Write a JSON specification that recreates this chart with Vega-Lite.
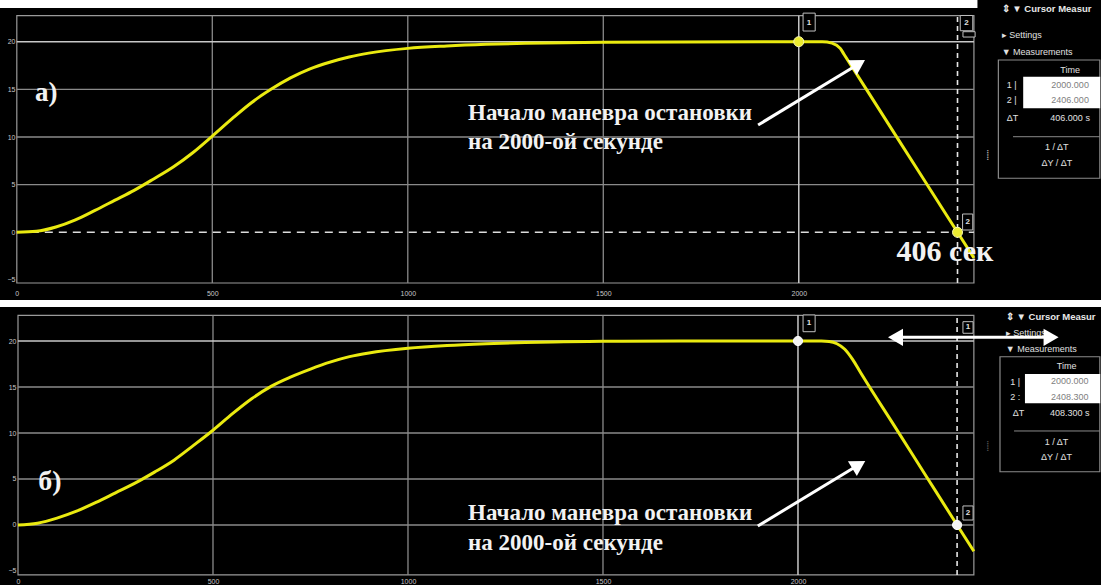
{
  "$schema": "https://vega.github.io/schema/vega-lite/v6.json",
  "background": "white",
  "padding": 0,
  "spacing": 7,
  "config": {
    "view": {"fill": "black", "stroke": null},
    "axis": {"labelFont": "Liberation Sans", "labelFontSize": 7, "labelColor": "#c8c8c8", "ticks": false, "domain": false, "grid": false, "title": null, "format": "d"}
  },
  "datasets": {
    "bandA": [{"t": -43, "t2": 2457, "v": 24.376, "v2": 23.54}],
    "frameA": [{"t": 0, "t2": 2448, "v": -5.32, "v2": 22.73}],
    "gridHA": [{"t": 0, "t2": 2448, "v": 5}, {"t": 0, "t2": 2448, "v": 10}, {"t": 0, "t2": 2448, "v": 15}],
    "gridVA": [{"t": 500, "v": -5.32, "v2": 22.73}, {"t": 1000, "v": -5.32, "v2": 22.73}, {"t": 1500, "v": -5.32, "v2": 22.73}],
    "cur1HA": [{"t": 0, "t2": 2448, "v": 20}],
    "cur2HA": [{"t": 0, "t2": 2448, "v": 0}],
    "cur1VA": [{"t": 2000, "v": -5.32, "v2": 22.73}],
    "cur2VA": [{"t": 2406, "v": -5.32, "v2": 22.73}],
    "curveA": [
      {"t": 0, "v": 0}, {"t": 50, "v": 0.1}, {"t": 100, "v": 0.55}, {"t": 150, "v": 1.3}, {"t": 200, "v": 2.3},
      {"t": 250, "v": 3.35}, {"t": 300, "v": 4.4}, {"t": 350, "v": 5.6}, {"t": 400, "v": 6.85}, {"t": 450, "v": 8.35},
      {"t": 500, "v": 10.1}, {"t": 550, "v": 11.9}, {"t": 600, "v": 13.6}, {"t": 650, "v": 15.0}, {"t": 700, "v": 16.2},
      {"t": 750, "v": 17.15}, {"t": 800, "v": 17.85}, {"t": 850, "v": 18.4}, {"t": 900, "v": 18.8}, {"t": 1000, "v": 19.3},
      {"t": 1100, "v": 19.55}, {"t": 1200, "v": 19.72}, {"t": 1300, "v": 19.83}, {"t": 1400, "v": 19.9}, {"t": 1500, "v": 19.94},
      {"t": 1700, "v": 19.98}, {"t": 2000, "v": 20}, {"t": 2060, "v": 20}, {"t": 2085, "v": 19.85}, {"t": 2106, "v": 19.3},
      {"t": 2116, "v": 18.66}, {"t": 2206, "v": 12.87}, {"t": 2306, "v": 6.43},
      {"t": 2406, "v": 0}, {"t": 2448, "v": -2.7}
    ],
    "dotsA": [{"t": 2000, "v": 20}, {"t": 2406, "v": 0}],
    "boxesA": [
      {"t": 2011, "t2": 2042, "v": 23.0, "v2": 21.12},
      {"t": 2413, "t2": 2445, "v": 22.75, "v2": 21.15},
      {"t": 2420, "t2": 2451, "v": 21.05, "v2": 20.49},
      {"t": 2419, "t2": 2445, "v": 1.92, "v2": 0.24}
    ],
    "boxLabelsA": [{"t": 2026, "v": 21.96, "label": "1"}, {"t": 2429, "v": 21.96, "label": "2"}, {"t": 2432, "v": 1.08, "label": "2"}],
    "arrowA": [{"t": 1896, "v": 11.26, "t2": 2153, "v2": 17.67}],
    "headA": [{"t": 2153, "v": 17.67}],
    "tagA": [{"t": 75, "v": 14.62, "label": "а)"}],
    "noteA": [{"t": 1154, "v": 12.51, "label": "Начало маневра остановки"}, {"t": 1154, "v": 9.51, "label": "на 2000-ой секунде"}],
    "secA": [{"t": 2374, "v": -2.07, "label": "406 сек"}],
    "panelBoxA": [{"t": 2510.5, "t2": 2770, "v": 18.08, "v2": 5.67}],
    "panelWhiteA": [{"t": 2574, "t2": 2771, "v": 16.33, "v2": 13.01}],
    "panelSepA": [{"t": 2548, "t2": 2770, "v": 10.03}],
    "panelHeadA": [{"t": 2519, "v": 23.43, "label": "⇕ ▼ Cursor Measur"}],
    "panelLeftA": [
      {"t": 2519, "v": 20.7, "label": "▸ Settings"}, {"t": 2519, "v": 18.95, "label": "▼ Measurements"},
      {"t": 2532, "v": 15.46, "label": "1 |"}, {"t": 2532, "v": 13.88, "label": "2 |"}, {"t": 2532, "v": 11.96, "label": "ΔT"}
    ],
    "panelCenterA": [
      {"t": 2694, "v": 17.03, "label": "Time"}, {"t": 2694, "v": 11.96, "label": "406.000 s"},
      {"t": 2660, "v": 8.98, "label": "1 / ΔT"}, {"t": 2660, "v": 7.24, "label": "ΔY / ΔT"}
    ],
    "panelValA": [{"t": 2694, "v": 15.46, "label": "2000.000"}, {"t": 2694, "v": 13.88, "label": "2406.000"}],
    "dotsStripA": [{"t": 2484, "v": 8.11, "label": "••••••"}],

    "frameB": [{"t": 0, "t2": 2451, "v": -5.43, "v2": 22.79}],
    "gridHB": [{"t": 0, "t2": 2451, "v": 0}, {"t": 0, "t2": 2451, "v": 5}, {"t": 0, "t2": 2451, "v": 10}, {"t": 0, "t2": 2451, "v": 15}],
    "gridVB": [{"t": 500, "v": -5.43, "v2": 22.79}, {"t": 1000, "v": -5.43, "v2": 22.79}, {"t": 1500, "v": -5.43, "v2": 22.79}],
    "cur1HB": [{"t": 0, "t2": 2451, "v": 20}],
    "cur1VB": [{"t": 2000, "v": -5.43, "v2": 22.79}],
    "cur2VB": [{"t": 2408, "v": -5.43, "v2": 22.79}],
    "curveB": [
      {"t": 0, "v": 0}, {"t": 50, "v": 0.2}, {"t": 100, "v": 0.75}, {"t": 150, "v": 1.5}, {"t": 200, "v": 2.45},
      {"t": 250, "v": 3.5}, {"t": 300, "v": 4.55}, {"t": 350, "v": 5.75}, {"t": 400, "v": 7.05}, {"t": 450, "v": 8.65},
      {"t": 500, "v": 10.3}, {"t": 550, "v": 12.1}, {"t": 600, "v": 13.75}, {"t": 650, "v": 15.1}, {"t": 700, "v": 16.1},
      {"t": 750, "v": 16.95}, {"t": 800, "v": 17.7}, {"t": 850, "v": 18.3}, {"t": 900, "v": 18.7}, {"t": 1000, "v": 19.2},
      {"t": 1100, "v": 19.5}, {"t": 1200, "v": 19.7}, {"t": 1300, "v": 19.85}, {"t": 1400, "v": 19.92}, {"t": 1500, "v": 19.96},
      {"t": 1700, "v": 19.99}, {"t": 2000, "v": 20}, {"t": 2060, "v": 20}, {"t": 2080, "v": 19.95}, {"t": 2100, "v": 19.7},
      {"t": 2120, "v": 19.1}, {"t": 2140, "v": 18.0}, {"t": 2160, "v": 16.6}, {"t": 2250, "v": 10.58}, {"t": 2330, "v": 5.22},
      {"t": 2408, "v": 0}, {"t": 2451, "v": -2.85}
    ],
    "dotsB": [{"t": 2000, "v": 20}, {"t": 2408, "v": 0}],
    "boxesB": [
      {"t": 2013, "t2": 2044, "v": 22.83, "v2": 21.01},
      {"t": 2423, "t2": 2449, "v": 22.1, "v2": 20.84},
      {"t": 2423, "t2": 2449, "v": 2.07, "v2": 0.54}
    ],
    "boxLabelsB": [{"t": 2028, "v": 21.92, "label": "1"}, {"t": 2436, "v": 21.47, "label": "1"}, {"t": 2436, "v": 1.3, "label": "2"}],
    "arrowB": [{"t": 1897, "v": -0.11, "t2": 2156, "v2": 6.55}],
    "headB": [{"t": 2156, "v": 6.55}],
    "dblB": [{"t": 2250, "t2": 2649, "v": 20.4}],
    "dblLeftB": [{"t": 2250, "v": 20.4}],
    "dblRightB": [{"t": 2649, "v": 20.4}],
    "tagB": [{"t": 82, "v": 4.67, "label": "б)"}],
    "noteB": [{"t": 1154, "v": 1.3, "label": "Начало маневра остановки"}, {"t": 1154, "v": -1.96, "label": "на 2000-ой секунде"}],
    "panelBoxB": [{"t": 2518, "t2": 2774, "v": 18.29, "v2": 5.79}],
    "panelWhiteB": [{"t": 2582, "t2": 2775, "v": 16.41, "v2": 13.23}],
    "panelSepB": [{"t": 2554, "t2": 2774, "v": 10.22}],
    "panelHeadB": [{"t": 2533, "v": 22.64, "label": "⇕ ▼ Cursor Measur"}],
    "panelLeftB": [
      {"t": 2533, "v": 20.84, "label": "▸ Settings"}, {"t": 2533, "v": 19.1, "label": "▼ Measurements"},
      {"t": 2544, "v": 15.58, "label": "1 |"}, {"t": 2544, "v": 13.95, "label": "2 :"}, {"t": 2551, "v": 12.14, "label": "ΔT"}
    ],
    "panelCenterB": [
      {"t": 2689, "v": 17.28, "label": "Time"}, {"t": 2697, "v": 12.14, "label": "408.300 s"},
      {"t": 2663, "v": 9.05, "label": "1 / ΔT"}, {"t": 2663, "v": 7.42, "label": "ΔY / ΔT"}
    ],
    "panelValB": [{"t": 2697, "v": 15.62, "label": "2000.000"}, {"t": 2697, "v": 13.95, "label": "2408.300"}],
    "dotsStripB": [{"t": 2487, "v": 8.6, "label": "••••••"}]
  },
  "vconcat": [
    {
      "width": 1101,
      "height": 300,
      "encoding": {
        "x": {"field": "t", "type": "quantitative", "scale": {"domain": [-43, 2773], "nice": false, "zero": false},
              "axis": {"values": [0, 500, 1000, 1500, 2000], "orient": "bottom", "offset": -11, "labelPadding": 0, "labelFlush": false}},
        "y": {"field": "v", "type": "quantitative", "scale": {"domain": [-7.104, 24.376], "nice": false, "zero": false},
              "axis": {"values": [-5, 0, 5, 10, 15, 20], "orient": "left", "offset": -17, "labelPadding": 2}}
      },
      "layer": [
        {"data": {"name": "bandA"}, "mark": {"type": "rect", "fill": "white"}, "encoding": {"x2": {"field": "t2"}, "y2": {"field": "v2"}}},
        {"data": {"name": "frameA"}, "mark": {"type": "rect", "fillOpacity": 0, "stroke": "#9a9a9a", "strokeWidth": 1.2}, "encoding": {"x2": {"field": "t2"}, "y2": {"field": "v2"}}},
        {"data": {"name": "gridHA"}, "mark": {"type": "rule", "color": "#8a8a8a", "strokeWidth": 1.3}, "encoding": {"x2": {"field": "t2"}}},
        {"data": {"name": "gridVA"}, "mark": {"type": "rule", "color": "#8a8a8a", "strokeWidth": 1.3}, "encoding": {"y2": {"field": "v2"}}},
        {"data": {"name": "cur1HA"}, "mark": {"type": "rule", "color": "#c8c8c8", "strokeWidth": 1.5}, "encoding": {"x2": {"field": "t2"}}},
        {"data": {"name": "cur2HA"}, "mark": {"type": "rule", "color": "#dcdcdc", "strokeWidth": 1.6, "strokeDash": [8, 6]}, "encoding": {"x2": {"field": "t2"}}},
        {"data": {"name": "cur1VA"}, "mark": {"type": "rule", "color": "#c8c8c8", "strokeWidth": 1.5}, "encoding": {"y2": {"field": "v2"}}},
        {"data": {"name": "cur2VA"}, "mark": {"type": "rule", "color": "#e6e6e6", "strokeWidth": 1.6, "strokeDash": [5, 4]}, "encoding": {"y2": {"field": "v2"}}},
        {"data": {"name": "curveA"}, "mark": {"type": "line", "color": "#eaea10", "strokeWidth": 3, "interpolate": "monotone"}},
        {"data": {"name": "dotsA"}, "mark": {"type": "point", "filled": true, "fill": "#ecec30", "stroke": "#f8f8b0", "strokeWidth": 1, "size": 100, "opacity": 1}},
        {"data": {"name": "boxesA"}, "mark": {"type": "rect", "fill": "black", "stroke": "#c0c0c0", "strokeWidth": 1}, "encoding": {"x2": {"field": "t2"}, "y2": {"field": "v2"}}},
        {"data": {"name": "boxLabelsA"}, "mark": {"type": "text", "color": "#e0e0e0", "font": "Liberation Sans", "fontSize": 8, "fontWeight": "bold", "align": "center", "baseline": "middle"}, "encoding": {"text": {"field": "label"}}},
        {"data": {"name": "arrowA"}, "mark": {"type": "rule", "color": "white", "strokeWidth": 3}, "encoding": {"x2": {"field": "t2"}, "y2": {"field": "v2"}}},
        {"data": {"name": "headA"}, "mark": {"type": "point", "shape": "triangle-up", "filled": true, "color": "white", "size": 300, "angle": 59, "opacity": 1}},
        {"data": {"name": "tagA"}, "mark": {"type": "text", "color": "#f2f2f2", "font": "Liberation Serif", "fontSize": 27, "fontWeight": "bold", "align": "center", "baseline": "middle"}, "encoding": {"text": {"field": "label"}}},
        {"data": {"name": "noteA"}, "mark": {"type": "text", "color": "#f2f2f2", "font": "Liberation Serif", "fontSize": 23, "fontWeight": "bold", "align": "left", "baseline": "middle"}, "encoding": {"text": {"field": "label"}}},
        {"data": {"name": "secA"}, "mark": {"type": "text", "color": "#f2f2f2", "font": "Liberation Serif", "fontSize": 30, "fontWeight": "bold", "align": "center", "baseline": "middle"}, "encoding": {"text": {"field": "label"}}},
        {"data": {"name": "panelBoxA"}, "mark": {"type": "rect", "fillOpacity": 0, "stroke": "#8a8a8a", "strokeWidth": 1.2}, "encoding": {"x2": {"field": "t2"}, "y2": {"field": "v2"}}},
        {"data": {"name": "panelWhiteA"}, "mark": {"type": "rect", "fill": "white"}, "encoding": {"x2": {"field": "t2"}, "y2": {"field": "v2"}}},
        {"data": {"name": "panelSepA"}, "mark": {"type": "rule", "color": "#8a8a8a", "strokeWidth": 1}, "encoding": {"x2": {"field": "t2"}}},
        {"data": {"name": "panelHeadA"}, "mark": {"type": "text", "color": "#e8e8e8", "font": "Liberation Sans", "fontSize": 9.5, "fontWeight": "bold", "align": "left", "baseline": "middle"}, "encoding": {"text": {"field": "label"}}},
        {"data": {"name": "panelLeftA"}, "mark": {"type": "text", "color": "#e0e0e0", "font": "Liberation Sans", "fontSize": 9, "align": "left", "baseline": "middle"}, "encoding": {"text": {"field": "label"}}},
        {"data": {"name": "panelCenterA"}, "mark": {"type": "text", "color": "#e0e0e0", "font": "Liberation Sans", "fontSize": 9, "align": "center", "baseline": "middle"}, "encoding": {"text": {"field": "label"}}},
        {"data": {"name": "panelValA"}, "mark": {"type": "text", "color": "#808080", "font": "Liberation Sans", "fontSize": 9, "align": "center", "baseline": "middle"}, "encoding": {"text": {"field": "label"}}},
        {"data": {"name": "dotsStripA"}, "mark": {"type": "text", "color": "#b0b0b0", "font": "Liberation Sans", "fontSize": 5, "angle": 90, "align": "center", "baseline": "middle"}, "encoding": {"text": {"field": "label"}}}
      ]
    },
    {
      "width": 1101,
      "height": 278,
      "encoding": {
        "x": {"field": "t", "type": "quantitative", "scale": {"domain": [-46.15, 2777], "nice": false, "zero": false},
              "axis": {"values": [0, 500, 1000, 1500, 2000], "orient": "bottom", "offset": -8, "labelPadding": 0, "labelFlush": false}},
        "y": {"field": "v", "type": "quantitative", "scale": {"domain": [-6.522, 23.696], "nice": false, "zero": false},
              "axis": {"values": [-5, 0, 5, 10, 15, 20], "orient": "left", "offset": -18, "labelPadding": 2}}
      },
      "layer": [
        {"data": {"name": "frameB"}, "mark": {"type": "rect", "fillOpacity": 0, "stroke": "#9a9a9a", "strokeWidth": 1.2}, "encoding": {"x2": {"field": "t2"}, "y2": {"field": "v2"}}},
        {"data": {"name": "gridHB"}, "mark": {"type": "rule", "color": "#8a8a8a", "strokeWidth": 1.3}, "encoding": {"x2": {"field": "t2"}}},
        {"data": {"name": "gridVB"}, "mark": {"type": "rule", "color": "#8a8a8a", "strokeWidth": 1.3}, "encoding": {"y2": {"field": "v2"}}},
        {"data": {"name": "cur1HB"}, "mark": {"type": "rule", "color": "#c8c8c8", "strokeWidth": 1.5}, "encoding": {"x2": {"field": "t2"}}},
        {"data": {"name": "cur1VB"}, "mark": {"type": "rule", "color": "#c8c8c8", "strokeWidth": 1.5}, "encoding": {"y2": {"field": "v2"}}},
        {"data": {"name": "cur2VB"}, "mark": {"type": "rule", "color": "#e6e6e6", "strokeWidth": 1.6, "strokeDash": [5, 4]}, "encoding": {"y2": {"field": "v2"}}},
        {"data": {"name": "curveB"}, "mark": {"type": "line", "color": "#eaea10", "strokeWidth": 3, "interpolate": "monotone"}},
        {"data": {"name": "dotsB"}, "mark": {"type": "point", "filled": true, "fill": "#f4f4f4", "stroke": "#ffffff", "strokeWidth": 1, "size": 85, "opacity": 1}},
        {"data": {"name": "boxesB"}, "mark": {"type": "rect", "fill": "black", "stroke": "#c0c0c0", "strokeWidth": 1}, "encoding": {"x2": {"field": "t2"}, "y2": {"field": "v2"}}},
        {"data": {"name": "boxLabelsB"}, "mark": {"type": "text", "color": "#e0e0e0", "font": "Liberation Sans", "fontSize": 8, "fontWeight": "bold", "align": "center", "baseline": "middle"}, "encoding": {"text": {"field": "label"}}},
        {"data": {"name": "arrowB"}, "mark": {"type": "rule", "color": "white", "strokeWidth": 3}, "encoding": {"x2": {"field": "t2"}, "y2": {"field": "v2"}}},
        {"data": {"name": "headB"}, "mark": {"type": "point", "shape": "triangle-up", "filled": true, "color": "white", "size": 300, "angle": 59, "opacity": 1}},
        {"data": {"name": "tagB"}, "mark": {"type": "text", "color": "#f2f2f2", "font": "Liberation Serif", "fontSize": 28, "fontWeight": "bold", "align": "center", "baseline": "middle"}, "encoding": {"text": {"field": "label"}}},
        {"data": {"name": "noteB"}, "mark": {"type": "text", "color": "#f2f2f2", "font": "Liberation Serif", "fontSize": 23, "fontWeight": "bold", "align": "left", "baseline": "middle"}, "encoding": {"text": {"field": "label"}}},
        {"data": {"name": "panelBoxB"}, "mark": {"type": "rect", "fillOpacity": 0, "stroke": "#8a8a8a", "strokeWidth": 1.2}, "encoding": {"x2": {"field": "t2"}, "y2": {"field": "v2"}}},
        {"data": {"name": "panelWhiteB"}, "mark": {"type": "rect", "fill": "white"}, "encoding": {"x2": {"field": "t2"}, "y2": {"field": "v2"}}},
        {"data": {"name": "panelSepB"}, "mark": {"type": "rule", "color": "#8a8a8a", "strokeWidth": 1}, "encoding": {"x2": {"field": "t2"}}},
        {"data": {"name": "panelHeadB"}, "mark": {"type": "text", "color": "#e8e8e8", "font": "Liberation Sans", "fontSize": 9.5, "fontWeight": "bold", "align": "left", "baseline": "middle"}, "encoding": {"text": {"field": "label"}}},
        {"data": {"name": "panelLeftB"}, "mark": {"type": "text", "color": "#e0e0e0", "font": "Liberation Sans", "fontSize": 9, "align": "left", "baseline": "middle"}, "encoding": {"text": {"field": "label"}}},
        {"data": {"name": "panelCenterB"}, "mark": {"type": "text", "color": "#e0e0e0", "font": "Liberation Sans", "fontSize": 9, "align": "center", "baseline": "middle"}, "encoding": {"text": {"field": "label"}}},
        {"data": {"name": "panelValB"}, "mark": {"type": "text", "color": "#808080", "font": "Liberation Sans", "fontSize": 9, "align": "center", "baseline": "middle"}, "encoding": {"text": {"field": "label"}}},
        {"data": {"name": "dotsStripB"}, "mark": {"type": "text", "color": "#555555", "font": "Liberation Sans", "fontSize": 5, "angle": 90, "align": "center", "baseline": "middle"}, "encoding": {"text": {"field": "label"}}},
        {"data": {"name": "dblB"}, "mark": {"type": "rule", "color": "white", "strokeWidth": 3}, "encoding": {"x2": {"field": "t2"}}},
        {"data": {"name": "dblLeftB"}, "mark": {"type": "point", "shape": "triangle-up", "filled": true, "color": "white", "size": 300, "angle": 270, "opacity": 1}},
        {"data": {"name": "dblRightB"}, "mark": {"type": "point", "shape": "triangle-up", "filled": true, "color": "white", "size": 300, "angle": 90, "opacity": 1}}
      ]
    }
  ]
}
